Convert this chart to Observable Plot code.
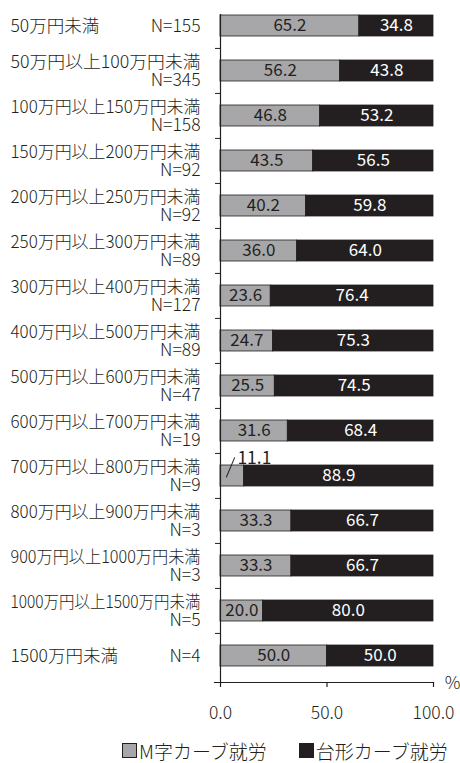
<!DOCTYPE html>
<html>
<head>
<meta charset="utf-8">
<script src="https://cdn.jsdelivr.net/npm/d3@7"></script>
<script src="https://cdn.jsdelivr.net/npm/@observablehq/plot@0.6"></script>
<style>
  body { margin: 0; background: #fff; font-family: 'Noto Sans CJK JP', sans-serif; color: #231f20; }
  #chart svg { display: block; }
  #legend { height: 40px; padding-left: 122px; display: flex; align-items: center; font-size: 19px; font-weight: 300; white-space: nowrap; }
  #legend .item { display: inline-flex; align-items: center; margin-right: 32px; }
  #legend .sw { display: inline-block; width: 15px; height: 15px; margin-right: 2px; box-sizing: border-box; border: 1px solid #231f20; }
</style>
</head>
<body>
<div id="chart"></div>
<div id="legend"></div>
<script>
// Annual income bands and respondents per band
const incomeBands = [
  "50万円未満",
  "50万円以上100万円未満",
  "100万円以上150万円未満",
  "150万円以上200万円未満",
  "200万円以上250万円未満",
  "250万円以上300万円未満",
  "300万円以上400万円未満",
  "400万円以上500万円未満",
  "500万円以上600万円未満",
  "600万円以上700万円未満",
  "700万円以上800万円未満",
  "800万円以上900万円未満",
  "900万円以上1000万円未満",
  "1000万円以上1500万円未満",
  "1500万円未満"
];
const sampleSizes = [155, 345, 158, 92, 92, 89, 127, 89, 47, 19, 9, 3, 3, 5, 4];

// Shares (%) of each working pattern
const mCurveShare = [65.2, 56.2, 46.8, 43.5, 40.2, 36.0, 23.6, 24.7, 25.5, 31.6, 11.1, 33.3, 33.3, 20.0, 50.0];
const plateauShare = [34.8, 43.8, 53.2, 56.5, 59.8, 64.0, 76.4, 75.3, 74.5, 68.4, 88.9, 66.7, 66.7, 80.0, 50.0];

const seriesNames = ["M字カーブ就労", "台形カーブ就労"];
const seriesColors = ["#a7a7a9", "#231f20"];

const xTicks = [0, 50, 100];
const xTickLabels = ["0.0", "50.0", "100.0"];

// Layout
const width = 460, height = 730;
const marginLeft = 220, marginRight = 27, marginTop = 14, marginBottom = 48;
const yRange = [14, 667];
const bandPadding = 0.535;
const step = (yRange[1] - yRange[0]) / (incomeBands.length - bandPadding);
const pxPerUnit = (width - marginLeft - marginRight) / 100;
const labelWidth = 190;
const ink = "#231f20";

// One stacked segment per band and series
const segments = incomeBands.flatMap((band, i) => [
  {band, series: seriesNames[0], x1: 0, x2: mCurveShare[i], value: mCurveShare[i]},
  {band, series: seriesNames[1], x1: mCurveShare[i], x2: mCurveShare[i] + plateauShare[i], value: plateauShare[i]}
]);
const insideLabel = (d) => d.value >= 15;
const rows = incomeBands.map((band, i) => ({band, n: `N=${sampleSizes[i]}`, twoLine: band.includes("以上")}));

const chart = Plot.plot({
  width, height, marginLeft, marginRight, marginTop, marginBottom,
  style: {fontFamily: "'Noto Sans CJK JP', sans-serif", fontSize: "17.5px", fontWeight: 300, color: ink, background: "#fff"},
  x: {domain: [0, 100]},
  y: {domain: incomeBands, range: yRange, paddingInner: bandPadding, paddingOuter: 0, axis: null},
  color: {domain: seriesNames, range: seriesColors},
  marks: [
    Plot.barX(segments, {x1: "x1", x2: "x2", y: "band", fill: "series", stroke: ink, strokeWidth: 0.8}),
    // value labels inside segments
    Plot.text(segments.filter((d) => insideLabel(d) && d.series === seriesNames[0]), {
      x: (d) => (d.x1 + d.x2) / 2, y: "band", text: (d) => d.value.toFixed(1), fill: ink, fontSize: 17, fontWeight: 400
    }),
    Plot.text(segments.filter((d) => insideLabel(d) && d.series === seriesNames[1]), {
      x: (d) => (d.x1 + d.x2) / 2, y: "band", text: (d) => d.value.toFixed(1), fill: "#fff", fontSize: 17, fontWeight: 400
    }),
    // narrow segment: label above the bar with a leader line
    Plot.vector(segments.filter((d) => !insideLabel(d)), {
      x: (d) => d.x1 + d.value / 4, y: "band", length: 21, rotate: 23, anchor: "start", dy: 1,
      stroke: ink, strokeWidth: 1,
      shape: {draw(context, l) { context.moveTo(0, 0); context.lineTo(0, -l); }}
    }),
    Plot.text(segments.filter((d) => !insideLabel(d)), {
      x: (d) => d.x1 + d.value / 4, y: "band", text: (d) => d.value.toFixed(1),
      textAnchor: "start", dx: 11, dy: -18, fill: ink, fontSize: 17.5, fontWeight: 400
    }),
    // row labels
    Plot.text(rows.filter((d) => d.twoLine), {x: 0, y: "band", text: "band", textAnchor: "end", dx: -20, dy: -8.5, fill: ink, className: "band-name"}),
    Plot.text(rows.filter((d) => d.twoLine), {x: 0, y: "band", text: "n", textAnchor: "end", dx: -20, dy: 9, fill: ink}),
    Plot.text(rows.filter((d) => !d.twoLine), {x: 0, y: "band", text: "band", textAnchor: "start", dx: -210, fill: ink}),
    Plot.text(rows.filter((d) => !d.twoLine), {x: 0, y: "band", text: "n", textAnchor: "end", dx: -20, fill: ink}),
    // category separators on the y axis
    Plot.ruleY(incomeBands.slice(1), {y: (d) => d, x1: -5 / pxPerUnit, x2: 0, dy: -step / 2, stroke: ink, strokeWidth: 1}),
    Plot.ruleX([0], {stroke: ink, strokeWidth: 1.2}),
    Plot.frame({anchor: "bottom", insetLeft: -6, stroke: ink, strokeWidth: 1.2}),
    Plot.axisX(xTicks, {
      tickFormat: (d) => xTickLabels[xTicks.indexOf(d)], tickSize: 5, tickPadding: 19,
      fontSize: 17.5, stroke: ink, strokeWidth: 1.2, label: null, fill: ink
    }),
    Plot.text(["%"], {x: 100, frameAnchor: "bottom", lineAnchor: "middle", text: (d) => d, dx: 19, dy: 1, fill: ink, fontSize: 17.5})
  ]
});

// two-line band names all fill the same label width
d3.select(chart).selectAll("g.band-name text, text.band-name")
  .attr("textLength", labelWidth).attr("lengthAdjust", "spacingAndGlyphs");

document.getElementById("chart").appendChild(chart);

// legend
const legend = d3.select("#legend");
seriesNames.forEach((name, i) => {
  const item = legend.append("span").attr("class", "item");
  item.append("span").attr("class", "sw").style("background", seriesColors[i]);
  item.append("span").text(name);
});
</script>
</body>
</html>
